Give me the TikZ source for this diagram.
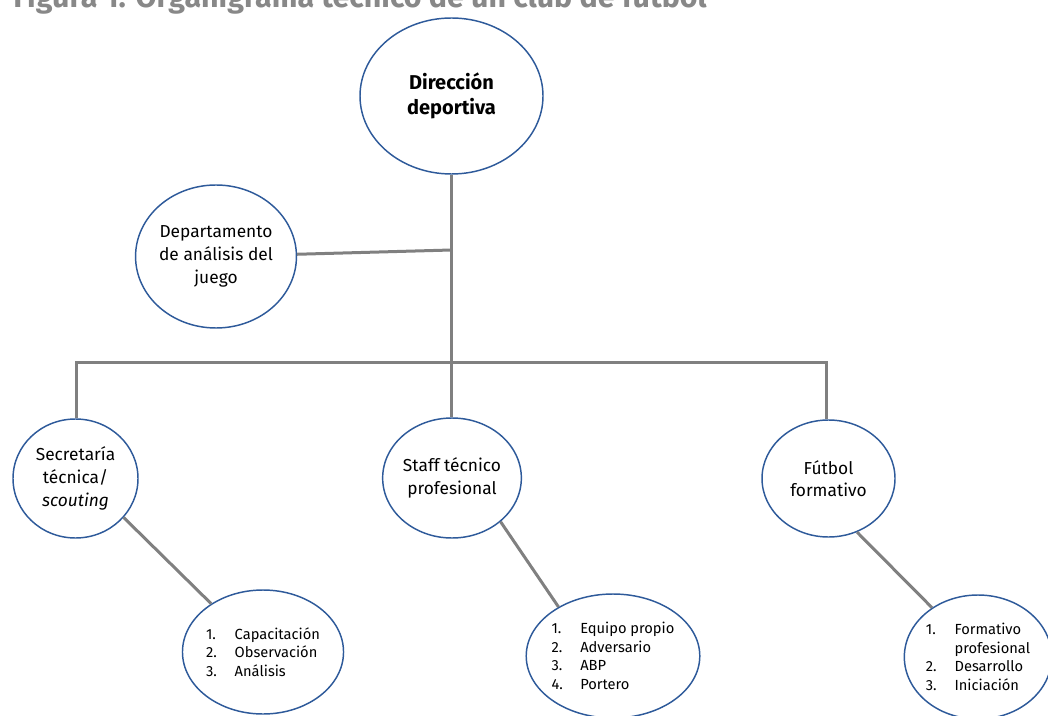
\documentclass[tikz,border=0pt]{standalone}
\usepackage{fontspec}
\setmainfont{Fira Sans}
\usetikzlibrary{shapes.geometric}
\definecolor{ellblue}{HTML}{2E5A9A}
\definecolor{linegray}{HTML}{808080}
\definecolor{titlegray}{HTML}{888888}
\tikzset{
  ell/.style 2 args={ellipse, draw=ellblue, line width=1.1pt, fill=white,
    inner sep=0pt, minimum width=#1*1.5pt, minimum height=#2*1.5pt, align=center},
  maintext/.style={font=\fontsize{13}{17}\selectfont},
  listtext/.style={font=\fontsize{11}{14}\selectfont},
  conn/.style={draw=linegray, line width=2.25pt},
}
\newcommand{\itm}[2]{\makebox[21.5pt][l]{#1}#2}
\begin{document}
\begin{tikzpicture}[x=0.75pt,y=-0.75pt]
\useasboundingbox (0,0) rectangle (1048,716);
\clip (0,0) rectangle (1048,716);
% title
\node[anchor=base west, inner sep=0pt, text=titlegray,
  font=\fontsize{22.8}{27}\selectfont\bfseries] (title) at (13,8)
  {Figura 1. Organigrama técnico de un club de fútbol};
% junction coordinates
\coordinate (j1) at (451.5,250);
\coordinate (j2) at (451.5,362);
\coordinate (bl) at (76,362);
\coordinate (br) at (826,362);
% nodes
\node[ell={91.5}{78}, font=\fontsize{15}{19}\selectfont\bfseries] (dir) at (451.5,96)
  {Dirección\\deportiva};
\node[ell={77}{71.5}, maintext] (dep) at (216,256.5)
  {Departamento\\de análisis del\\juego};
\node[ell={62.5}{59.5}, maintext] (sec) at (75.5,478.5)
  {Secretaría\\técnica/\\\textit{scouting}};
\node[ell={65}{60}, maintext] (sta) at (452,478)
  {Staff técnico\\profesional};
\node[ell={66.5}{58.5}, maintext] (fut) at (828.5,478.5)
  {Fútbol\\formativo};
\node[ell={71}{62}, listtext, align=left] (cap) at (263,652)
  {\itm{1.}{Capacitación}\\\itm{2.}{Observación}\\\itm{3.}{Análisis}};
\node[ell={73}{62}, listtext, align=left] (equ) at (613,656)
  {\itm{1.}{Equipo propio}\\\itm{2.}{Adversario}\\\itm{3.}{ABP}\\\itm{4.}{Portero}};
\node[ell={69}{62}, listtext, align=left] (for) at (978,657)
  {\itm{1.}{Formativo}\\\itm{}{profesional}\\\itm{2.}{Desarrollo}\\\itm{3.}{Iniciación}};
% connectors
\draw[conn] (dir.south) -- (j2);
\draw[conn] (j1) -- (dep);
\draw[conn, line cap=rect] (bl) -- (br);
\draw[conn] (bl) -- (bl |- sec.north);
\draw[conn] (j2) -- (j2 |- sta.north);
\draw[conn] (br) -- (br |- fut.north);
\draw[conn] (sec.-39) -- (cap.137);
\draw[conn] (sta.-42) -- (equ.138);
\draw[conn] (fut.-62) -- (for.133);
\end{tikzpicture}
\end{document}
